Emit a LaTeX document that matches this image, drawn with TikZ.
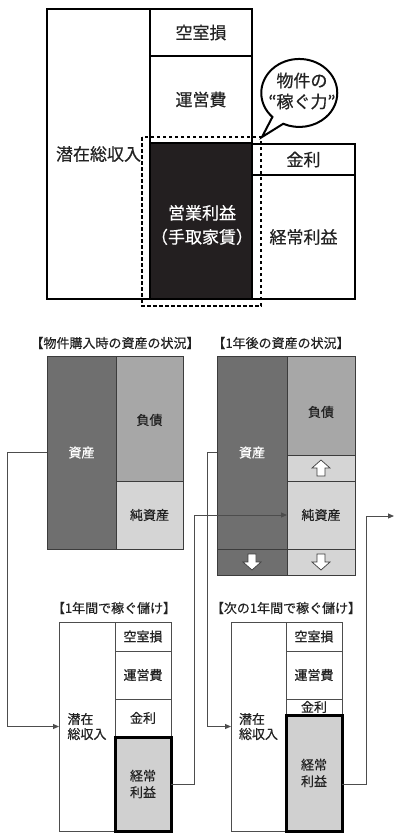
\documentclass[tikz,border=0pt]{standalone}
\usepackage{fontspec}
\setmainfont{Noto Sans CJK JP}[FakeBold=0.5]
\usetikzlibrary{arrows.meta}
\definecolor{darkg}{HTML}{6F6F6F}
\definecolor{midg}{HTML}{A7A7A7}
\definecolor{lightg}{HTML}{D5D5D5}
\definecolor{profg}{HTML}{D0D0D0}
\definecolor{edgeg}{HTML}{3C3C3C}
\definecolor{lineg}{HTML}{4D4D4D}
\definecolor{txtc}{HTML}{222222}
\definecolor{blackbox}{HTML}{231F20}
\begin{document}
\begin{tikzpicture}[x=1pt,y=-1pt,
  sz/.style 2 args={minimum width=#1pt, minimum height=#2pt},
  topbox/.style={draw=black, line width=2.5pt, fill=white, inner sep=0pt, outer sep=0pt, font=\fontsize{17}{21}\selectfont, text=txtc, align=center},
  topfill/.style={topbox, fill=blackbox},
  dotbox/.style={draw=black, line width=2.6pt, dash pattern=on 3.5pt off 2.5pt},
  bubble/.style={draw=black, line width=2pt, fill=white},
  toplbl/.style={inner sep=0pt, font=\fontsize{17}{21}\selectfont, text=txtc, align=center},
  balbox/.style={draw=edgeg, line width=0.8pt, inner sep=0pt, outer sep=0pt, font=\fontsize{13}{16}\selectfont, text=txtc},
  pnlbox/.style={draw=lineg, line width=0.8pt, fill=white, inner sep=0pt, outer sep=0pt, font=\fontsize{13}{15}\selectfont, text=txtc, align=center},
  profit/.style={pnlbox, draw=black, line width=3pt, fill=profg, font=\fontsize{13}{16.5}\selectfont},
  lbl/.style={inner sep=0pt, font=\fontsize{13}{16}\selectfont, text=txtc, align=center},
  ttl/.style={inner sep=0pt, font=\fontsize{13}{16}\selectfont, text=txtc},
  conn/.style={draw=lineg, line width=1pt, -{Triangle[length=6pt,width=5pt]}},
  uparr/.pic={\draw[fill=white, draw=edgeg, line width=0.7pt] (-4,8) -- (4,8) -- (4,0) -- (9,0) -- (0,-8) -- (-9,0) -- (-4,0) -- cycle;},
  dnarr/.pic={\draw[fill=white, draw=edgeg, line width=0.7pt] (-4,-8) -- (4,-8) -- (4,0) -- (9,0) -- (0,8) -- (-9,0) -- (-4,0) -- cycle;}
]
\useasboundingbox (0,0) rectangle (400,839);

% ---------- top diagram ----------
\node[topbox, sz={103}{290}] (L0) at (98.5,154) {潜在総収入};
\node[topbox, sz={102}{47}] (K0) at (201,32.5) {空室損};
\node[topbox, sz={102}{87}] (U0) at (201,99.5) {運営費};
\node[topfill, sz={102}{156}] (E0) at (201,221) {};
\node[toplbl, text=white, font=\fontsize{17}{24}\selectfont] (E0t) at (202,225) {営業利益\\（手取家賃）};
\node[topbox, sz={103}{31}] (M0) at (303.5,159.5) {金利};
\node[topbox, sz={103}{124}] (C0) at (303.5,237) {経常利益};
\draw[dotbox] (142,137) rectangle (261,306);
\draw[bubble] (262,137) -- (272.4,117) arc[start angle=135, end angle=475, x radius=38, y radius=34] -- cycle;
\node[toplbl] (B0t) at (302,91) {物件の\\“稼ぐ力”};

% ---------- balance sheet at purchase ----------
\node[ttl] (TA) at (115,343) {【物件購入時の資産の状況】};
\node[balbox, fill=darkg, sz={69}{193}, text=white] (Aa) at (81.5,452.5) {資産};
\node[balbox, fill=midg, sz={67}{125}] (Ad) at (149.5,418.5) {};
\node[lbl] (Adt) at (149.5,420) {負債};
\node[balbox, fill=lightg, sz={67}{68}] (An) at (149.5,515) {純資産};

% ---------- balance sheet after one year ----------
\node[ttl] (TB) at (281,343) {【1年後の資産の状況】};
\node[balbox, fill=darkg, sz={70}{193}, text=white] (Ba) at (252,452.5) {資産};
\node[balbox, fill=darkg, sz={70}{26}] (Bad) at (252,562) {};
\node[balbox, fill=midg, sz={68}{99}] (Bd) at (321,405.5) {};
\node[lbl] (Bdt) at (321,412) {負債};
\node[balbox, fill=lightg, sz={68}{26}] (Bu) at (321,468) {};
\node[balbox, fill=lightg, sz={68}{68}] (Bn) at (321,515) {純資産};
\node[balbox, fill=lightg, sz={68}{26}] (Bnd) at (321,562) {};
\pic at (252,562) {dnarr};
\pic at (321,468) {uparr};
\pic at (321,562) {dnarr};

% ---------- profit in first year ----------
\node[ttl] (TC) at (114,608) {【1年間で稼ぐ儲け】};
\node[pnlbox, sz={56}{209}, align=left] (Cl) at (87,726.5) {潜在\\総収入};
\node[pnlbox, sz={56}{29}] (Ck) at (143,636.5) {空室損};
\node[pnlbox, sz={56}{48}] (Cu) at (143,675) {運営費};
\node[pnlbox, sz={56}{38}] (Cm) at (143,718) {金利};
\node[profit, sz={56}{94}] (Cc) at (143,784) {経常\\利益};

% ---------- profit in next year ----------
\node[ttl] (TD) at (286,608) {【次の1年間で稼ぐ儲け】};
\node[pnlbox, sz={55}{209}, align=left] (Dl) at (258.5,726.5) {潜在\\総収入};
\node[pnlbox, sz={56}{29}] (Dk) at (314,636.5) {空室損};
\node[pnlbox, sz={56}{48}] (Du) at (314,675) {運営費};
\node[pnlbox, sz={56}{16}] (Dm) at (314,707) {金利};
\node[profit, sz={56}{116}] (Dc) at (314,773) {経常\\利益};

% ---------- connectors ----------
\coordinate (Dend) at (394,516);
\draw[conn] (Aa.west) -- ++(-40,0) |- (Cl.west);
\draw[conn] (Cc.east) -- ++(23,0) |- (Bn.west);
\draw[conn] (Ba.west) -- ++(-10,0) |- (Dl.west);
\draw[conn] ([yshift=-11pt]Dc.east) -- ++(24,0) |- (Dend);
\end{tikzpicture}
\end{document}
